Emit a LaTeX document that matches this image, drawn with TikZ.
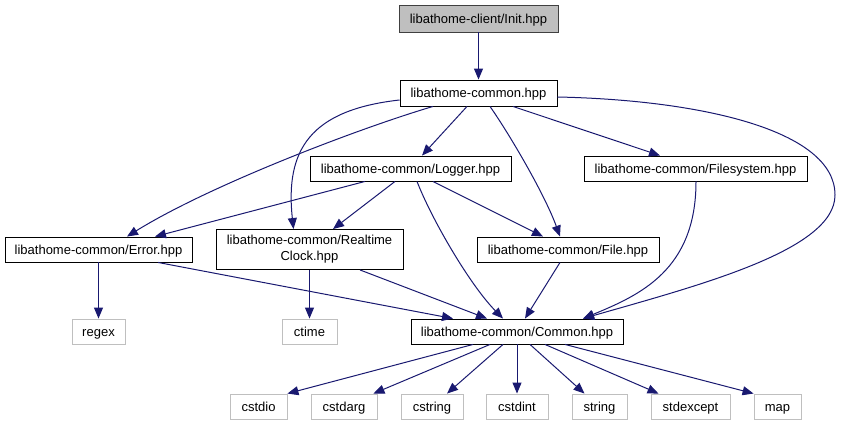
\documentclass[tikz,border=0pt]{standalone}
\usepackage{fontspec}
\setmainfont{Liberation Sans}
\usetikzlibrary{arrows.meta}
\definecolor{edgeblue}{HTML}{191970}
\definecolor{sysgray}{HTML}{BFBFBF}

\begin{document}
\begin{tikzpicture}[
  x=1pt, y=-1pt,
  font=\fontsize{13}{15}\selectfont,
  >={Triangle[length=11pt,width=9pt]},
  box/.style={draw, inner sep=0pt, text height=11pt, text depth=1pt,
              minimum height=25pt, line width=0.9pt},
  hdr/.style ={box, fill=white, draw=black},
  root/.style={box, fill=sysgray, draw=black!75},
  sys/.style ={box, fill=white, draw=sysgray},
  dep/.style ={->, draw=edgeblue, line width=1pt},
]
\useasboundingbox (0,0) rectangle (842,425);

% top
\node[root, minimum width=159pt, minimum height=27pt] (init) at (478.5,18.5) {libathome-client/Init.hpp};
\node[hdr, minimum width=157pt, minimum height=26pt] (common) at (478.5,93) {libathome-common.hpp};

% middle headers
\node[hdr, minimum width=201pt] (logger) at (410.5,168.5) {libathome-common/Logger.hpp};
\node[hdr, minimum width=223pt] (fsys)   at (695.5,168.5) {libathome-common/Filesystem.hpp};
\node[hdr, minimum width=187pt] (error)  at (98.5,249.5)  {libathome-common/Error.hpp};
\node[hdr, minimum width=187pt, minimum height=40pt, text height=, text depth=, align=center,
      font=\fontsize{13}{16}\selectfont] (rtc) at (309.5,249.5) {libathome-common/Realtime\\Clock.hpp};
\node[hdr, minimum width=182pt] (file)   at (568,249.5)   {libathome-common/File.hpp};
\node[hdr, minimum width=212pt] (cmn)    at (517,331.5)   {libathome-common/Common.hpp};

% system headers
\node[sys, minimum width=53pt] (regex)     at (98.5,331.5)  {regex};
\node[sys, minimum width=55pt] (ctime)     at (309.5,331.5) {ctime};
\node[sys, minimum width=57pt] (cstdio)    at (258.5,406.5) {cstdio};
\node[sys, minimum width=66pt] (cstdarg)   at (344,406.5)   {cstdarg};
\node[sys, minimum width=62pt] (cstring)   at (432,406.5)   {cstring};
\node[sys, minimum width=62pt] (cstdint)   at (517,406.5)   {cstdint};
\node[sys, minimum width=55pt] (string)    at (599.5,406.5) {string};
\node[sys, minimum width=79pt] (stdexcept) at (690.5,406.5) {stdexcept};
\node[sys, minimum width=47pt] (map)       at (777.5,406.5) {map};

% includes of Init.hpp and libathome-common.hpp
\draw[dep] (init) -- (common);
\draw[dep] ([yshift=-7pt]common.west) .. controls (310,110) and (285,150) .. ([xshift=-16pt]rtc.north);
\draw[dep] ([xshift=-45.5pt]common.south) .. controls (360,128) and (210,185) .. ([xshift=28.5pt]error.north);
\draw[dep] ([xshift=-11.5pt]common.south) -- ([xshift=11.5pt]logger.north);
\draw[dep] ([xshift=11.5pt]common.south) .. controls (510,135) and (545,195) .. ([xshift=-8pt]file.north);
\draw[dep] ([xshift=34.5pt]common.south) -- ([xshift=-35.5pt]fsys.north);
\draw[dep] ([yshift=-4pt]common.east) .. controls (700,100) and (835,130) .. (835,195)
  .. controls (835,250) and (700,285) .. ([xshift=66pt]cmn.north);

% Logger.hpp
\draw[dep] ([xshift=-45.5pt]logger.south) -- ([xshift=56.5pt]error.north);
\draw[dep] ([xshift=-15.5pt]logger.south) -- ([xshift=23.5pt]rtc.north);
\draw[dep] ([xshift=22.5pt]logger.south) -- ([xshift=-25pt]file.north);
\draw[dep] ([xshift=6.5pt]logger.south) .. controls (432,220) and (470,285) .. ([xshift=-14pt]cmn.north);

% into Common.hpp
\draw[dep] ([xshift=0.5pt]fsys.south) .. controls (696,270) and (640,295) .. ([xshift=66pt]cmn.north);
\draw[dep] ([xshift=-8pt]file.south) -- ([xshift=8pt]cmn.north);
\draw[dep] ([xshift=50.5pt]rtc.south) -- ([xshift=-30pt]cmn.north);
\draw[dep] ([xshift=59.5pt]error.south) -- ([xshift=-64pt]cmn.north);

% system includes
\draw[dep] (error) -- (regex);
\draw[dep] (rtc) -- (ctime);
\draw[dep] ([xshift=-44pt]cmn.south) -- (cstdio.north east);
\draw[dep] ([xshift=-27pt]cmn.south) -- ([xshift=-4pt]cstdarg.north east);
\draw[dep] ([xshift=-14pt]cmn.south) -- ([xshift=15pt]cstring.north);
\draw[dep] (cmn) -- (cstdint);
\draw[dep] ([xshift=13pt]cmn.south) -- ([xshift=-15pt]string.north);
\draw[dep] ([xshift=28pt]cmn.south) -- ([xshift=-32pt]stdexcept.north);
\draw[dep] ([xshift=48pt]cmn.south) -- (map.north west);

\end{tikzpicture}
\end{document}
